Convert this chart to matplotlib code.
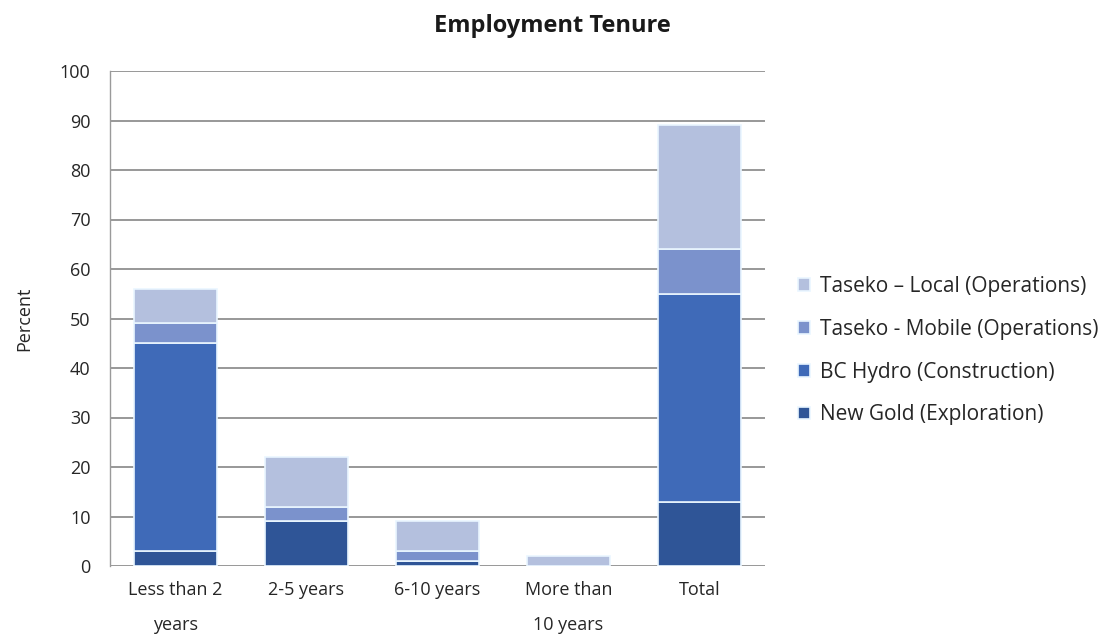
import matplotlib
matplotlib.use('Agg')
import matplotlib.pyplot as plt
import numpy as np

plt.rcParams['font.family'] = ['Open Sans', 'DejaVu Sans']

categories = ['Less than 2\nyears', '2-5 years', '6-10 years', 'More than\n10 years', 'Total']
new_gold = [3, 9, 1, 0, 13]
bc_hydro = [42, 0, 0, 0, 42]
taseko_mobile = [4, 3, 2, 0, 9]
taseko_local = [7, 10, 6, 2, 25]

series = [
    ('New Gold (Exploration)', new_gold, '#2F5597'),
    ('BC Hydro (Construction)', bc_hydro, '#3F6AB8'),
    ('Taseko - Mobile (Operations)', taseko_mobile, '#7B92CC'),
    ('Taseko \u2013 Local (Operations)', taseko_local, '#B4C0DE'),
]

fig = plt.figure(figsize=(11.04, 6.37), dpi=100)
# plot area: x 110..765 px, y 71..566 px
ax = fig.add_axes([110 / 1104, 1 - 566 / 637, 655 / 1104, 495 / 637])

x = np.arange(len(categories))
bottom = np.zeros(len(categories))
handles = []
for label, vals, color in series:
    vals = np.array(vals, dtype=float)
    b = ax.bar(x, vals, bottom=bottom, width=0.63, color=color,
               edgecolor='#EAF6FF', linewidth=1.2, label=label, zorder=3)
    handles.append(b)
    bottom += vals

ax.set_ylim(0, 100)
ax.set_xlim(-0.5, len(categories) - 0.5)
ax.set_yticks(range(0, 101, 10))
ax.yaxis.grid(True, color='#868686', linewidth=1.2, zorder=0)
ax.set_axisbelow(True)
for s in ['top', 'right', 'bottom']:
    ax.spines[s].set_visible(False)
ax.spines['left'].set_color('#9A9A9A')
ax.spines['left'].set_linewidth(1.0)
ax.tick_params(axis='both', length=0, colors='#262626')
ax.tick_params(axis='y', pad=14, labelsize=13)
ax.tick_params(axis='x', pad=11, labelsize=13)
ax.set_xticks(x)
ax.set_xticklabels(categories, linespacing=2.2)
ax.set_ylabel('Percent', fontsize=13, color='#262626', labelpad=19)

fig.text(552 / 1104, 1 - 26 / 637, 'Employment Tenure', ha='center', va='center',
         fontsize=17, fontweight='bold', color='#1A1A1A')

leg = ax.legend(handles[::-1], [s[0] for s in series][::-1],
                loc='center left', bbox_to_anchor=(1.022, 0.435),
                frameon=False, fontsize=15, handlelength=0.55, handleheight=0.55,
                handletextpad=0.5, labelspacing=1.05, labelcolor='#262626')

fig.savefig('out.png', dpi=100)
